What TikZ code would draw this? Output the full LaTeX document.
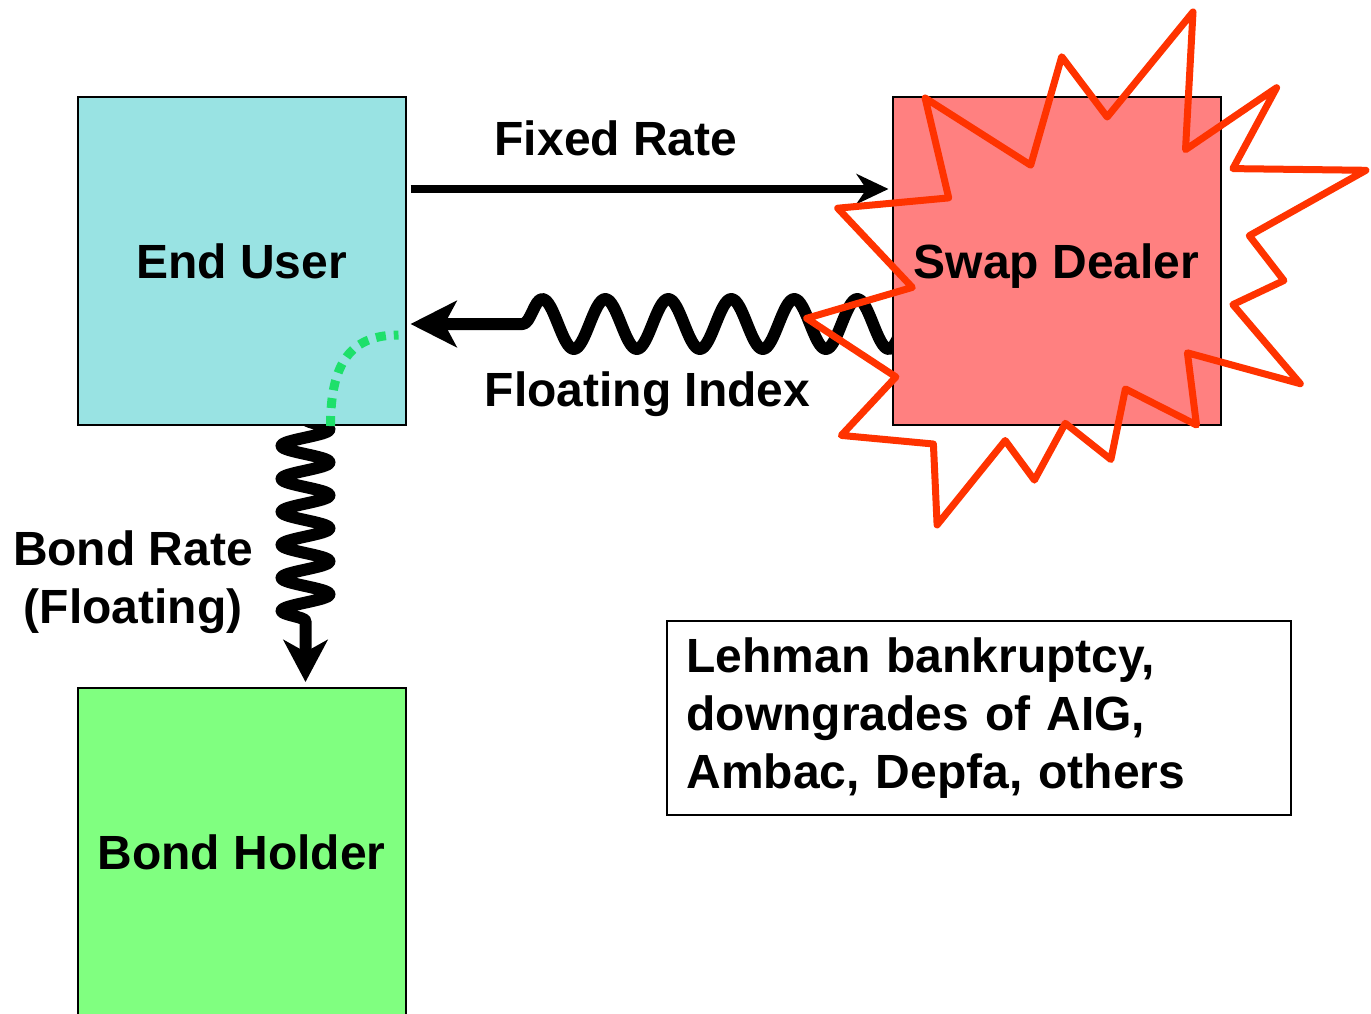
\documentclass[tikz,border=0pt]{standalone}
\usepackage{fontspec}
\setmainfont{Liberation Sans}
\usetikzlibrary{arrows.meta,positioning,decorations.pathmorphing,backgrounds}

\definecolor{enduser}{HTML}{99E3E3}
\definecolor{dealer}{HTML}{FF8080}
\definecolor{holder}{HTML}{80FF80}
\definecolor{burst}{HTML}{FF3300}
\definecolor{dotgreen}{HTML}{1EE06A}

\tikzset{
	party/.style={draw, line width=1pt, minimum width=164pt, minimum height=164pt,
		text depth=0pt, font=\fontsize{24}{29}\selectfont\bfseries},
	labeled/.style={inner sep=0pt, font=\fontsize{24}{29}\selectfont\bfseries},
	note/.style={draw, line width=1pt, align=left, text width=292pt, inner xsep=10pt,
		minimum height=97pt, font=\fontsize{24}{29}\selectfont\bfseries},
	fixedleg/.style={line width=4pt, -{Stealth[length=16pt,width=15pt,inset=5pt]}},
	floatleg/.style={line width=6pt, line cap=round, line join=round,
		-{Stealth[length=23pt,width=23pt,inset=6pt]},
		decorate, decoration={snake, segment length=31.5pt, amplitude=12.5pt, post length=50pt}},
	bondleg/.style={line width=6pt, line cap=round, line join=round,
		-{Stealth[length=21pt,width=22pt,inset=6pt]},
		decorate, decoration={snake, segment length=16.5pt, amplitude=12pt, post length=27.5pt}},
	passleg/.style={dotgreen, line width=4.5pt, dash pattern=on 5pt off 4pt},
	blast/.style={draw=burst, line width=3.5pt, line join=round}
}

\begin{document}
\begin{tikzpicture}[x=0.5pt, y=-0.5pt]
	\useasboundingbox (0,0) rectangle (1371,1013);
	\clip (0,0) rectangle (1371,1013);
	% the three parties
	\node[party, fill=enduser] (user) at (241.5,261) {End User};
	\node[party, fill=dealer, right=242.5pt of user] (dealer) {Swap Dealer};
	\node[party, fill=holder, below=130.5pt of user] (holder) {Bond Holder};
	% the two legs of the swap
	\draw[fixedleg] ([xshift=2pt,yshift=36pt]user.east)
		-- node[labeled, pos=.43, above=14.5pt] {Fixed Rate}
		([xshift=-1.5pt,yshift=36pt]dealer.west);
	\begin{pgfonlayer}{background}
		\draw[floatleg] ([xshift=8.5pt,yshift=-31.5pt]dealer.west)
			-- node[labeled, pos=.524, below=21pt] {Floating Index}
			([xshift=2pt,yshift=-31.5pt]user.east);
		% bond coupon
		\draw[bondleg] ([xshift=32pt,yshift=3.5pt]user.south) -- ([xshift=32pt,yshift=2.5pt]holder.north);
	\end{pgfonlayer}
	\node[labeled, align=center] (bondlbl) at (133,582) {Bond Rate\\(Floating)};
	% floating leg passed on to the bond
	\draw[passleg] ([xshift=44.5pt]user.south)
		.. controls +(0pt,32pt) and +(-23.5pt,0pt) .. ([xshift=-4pt,yshift=-37pt]user.east);
	% dealer blows up
	\draw[blast] (1193,12) -- (1185.5,149.7) -- (1276.6,87.7) -- (1232.9,168.6)
		-- (1365.9,170.3) -- (1249.3,235.7) -- (1283.9,280.5) -- (1232.9,304.6)
		-- (1300.3,383.7) -- (1187.4,352.8) -- (1196.5,425) -- (1125.4,388.9)
		-- (1110.9,459.5) -- (1065.3,423.3) -- (1034.4,480.1) -- (1005.2,440.5)
		-- (937.1,524.9) -- (933.4,444) -- (841.3,435.4) -- (895.9,376.9)
		-- (806.7,318.3) -- (912.3,287.4) -- (837.7,208.2) -- (948.7,197.9)
		-- (925.1,98) -- (1030.7,165.2) -- (1061.7,56.7) -- (1107.2,117) -- cycle;
	\node[note] (news) at (978.5,718) {Lehman bankruptcy,\\downgrades of AIG,\\Ambac, Depfa, others};
\end{tikzpicture}
\end{document}
